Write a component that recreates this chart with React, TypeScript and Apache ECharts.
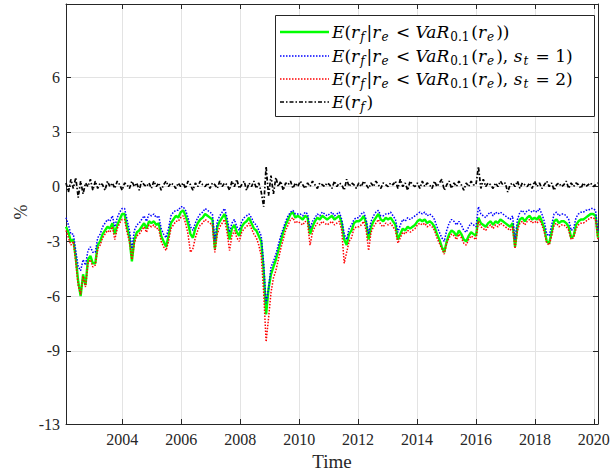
import { useEffect, useRef } from "react";
import * as echarts from "echarts";

// Time span of the sample (decimal years) and tick labels
const START_YEAR = 2002.09;
const END_YEAR = 2020.14;
const yearTicks = [2004, 2006, 2008, 2010, 2012, 2014, 2016, 2018, 2020];
const yTicks = [-13, -9, -6, -3, 0, 3, 6];
const Y_MIN = -13;
const Y_MAX = 10;

const seriesNames = [
  "E(r_f|r_e<VaR_0.1(r_e))",
  "E(r_f|r_e<VaR_0.1(r_e), s_t=1)",
  "E(r_f|r_e<VaR_0.1(r_e), s_t=2)",
  "E(r_f)",
];

// E(r_f | r_e < VaR_0.1(r_e))  (green, roughly monthly observations)
const condAll = [
  -2.2, -2.5, -3.0, -2.9, -3.9, -5.2, -6.0, -4.8, -5.4, -4.0, -3.8, -4.2,
  -4.2, -3.2, -3.0, -2.6, -2.4, -2.2, -2.3, -2.0, -2.6, -2.1, -1.8, -1.5,
  -1.5, -2.2, -2.8, -4.1, -2.9, -2.5, -2.4, -2.2, -2.0, -2.3, -1.9, -2.0,
  -1.9, -2.1, -2.0, -2.7, -3.0, -3.3, -2.7, -2.0, -1.8, -1.6, -1.7, -1.4,
  -1.3, -1.6, -2.0, -2.6, -2.8, -2.3, -2.0, -1.8, -1.7, -1.5, -1.6, -1.7,
  -1.8, -3.4, -2.2, -1.9, -1.7, -1.5, -2.0, -2.9, -2.3, -2.1, -2.5, -2.7,
  -2.2, -2.0, -1.9, -1.7, -2.0, -2.3, -2.4, -2.7, -3.0, -4.6, -7.0, -5.6,
  -4.8, -4.4, -4.0, -3.5, -3.0, -2.5, -2.1, -1.8, -1.5, -1.4, -1.7, -1.6,
  -1.7, -1.8, -1.6, -1.7, -2.6, -2.2, -1.9, -1.7, -1.8, -1.6, -1.7, -1.8,
  -1.7, -1.6, -1.8, -1.7, -1.6, -2.0, -2.9, -3.2, -2.6, -2.4, -2.0, -1.9,
  -1.9, -1.8, -1.6, -2.0, -2.9, -2.2, -1.9, -1.7, -1.5, -1.8, -1.9, -1.7,
  -1.8, -1.7, -1.9, -2.1, -2.9, -2.6, -2.3, -2.4, -2.2, -2.3, -2.2, -2.1,
  -1.9, -1.8, -1.9, -1.8, -2.0, -1.9, -2.0, -2.2, -2.6, -2.9, -3.3, -3.6,
  -3.0, -2.6, -2.4, -2.5, -2.7, -2.4, -2.6, -2.9, -3.0, -2.7, -2.5, -2.6,
  -2.7, -1.7, -2.0, -2.1, -2.2, -2.0, -1.9, -2.1, -1.9, -2.0, -1.8, -1.9,
  -2.0, -2.1, -2.2, -2.0, -3.3, -2.2, -1.8, -1.7, -1.9, -1.7, -1.6, -1.8,
  -1.7, -1.8, -1.6, -1.9, -2.3, -3.0, -3.1, -2.5, -1.9, -1.8, -2.0, -1.9,
  -1.9, -2.0, -2.2, -2.8, -2.7, -2.1, -1.9, -1.8, -1.8, -1.7, -1.6, -1.5,
  -1.5, -1.6, -2.8,
];

// E(r_f | r_e < VaR_0.1(r_e), s_t = 1)  (blue)
const condState1 = [
  -1.7, -2.1, -2.6, -2.6, -3.5, -4.4, -4.6, -4.0, -4.3, -3.5, -3.3, -3.6,
  -3.6, -2.8, -2.6, -2.2, -2.0, -1.8, -1.9, -1.6, -2.2, -1.7, -1.4, -1.2,
  -1.2, -1.8, -2.4, -3.4, -2.4, -2.1, -2.0, -1.8, -1.6, -1.9, -1.5, -1.6,
  -1.5, -1.7, -1.6, -2.3, -2.6, -2.8, -2.3, -1.6, -1.4, -1.3, -1.3, -1.1,
  -1.1, -1.3, -1.7, -2.2, -2.4, -2.0, -1.7, -1.5, -1.4, -1.2, -1.3, -1.4,
  -1.5, -3.0, -1.9, -1.6, -1.4, -1.2, -1.7, -2.5, -2.0, -1.8, -2.2, -2.4,
  -1.9, -1.7, -1.6, -1.5, -1.7, -2.0, -2.1, -2.4, -2.7, -4.2, -6.4, -5.6,
  -4.4, -4.1, -3.7, -3.2, -2.7, -2.3, -1.9, -1.6, -1.4, -1.3, -1.5, -1.5,
  -1.5, -1.6, -1.4, -1.5, -2.3, -1.9, -1.7, -1.5, -1.6, -1.4, -1.5, -1.6,
  -1.5, -1.4, -1.6, -1.5, -1.4, -1.8, -2.6, -2.9, -2.3, -2.1, -1.8, -1.7,
  -1.7, -1.5, -1.4, -1.8, -2.6, -1.9, -1.6, -1.4, -1.3, -1.6, -1.6, -1.5,
  -1.5, -1.4, -1.6, -1.8, -2.5, -2.1, -1.8, -1.9, -1.7, -1.8, -1.7, -1.6,
  -1.5, -1.4, -1.5, -1.4, -1.6, -1.5, -1.6, -1.8, -2.2, -2.5, -2.8, -3.0,
  -2.4, -2.0, -1.8, -1.9, -2.1, -1.9, -2.1, -2.4, -2.5, -2.2, -2.0, -2.1,
  -2.2, -1.1, -1.5, -1.6, -1.7, -1.5, -1.4, -1.6, -1.4, -1.5, -1.4, -1.5,
  -1.6, -1.7, -1.8, -1.6, -2.9, -1.8, -1.4, -1.3, -1.5, -1.3, -1.3, -1.4,
  -1.3, -1.4, -1.2, -1.5, -1.9, -2.6, -2.7, -2.1, -1.5, -1.4, -1.6, -1.5,
  -1.5, -1.6, -1.8, -2.4, -2.3, -1.7, -1.5, -1.4, -1.4, -1.3, -1.3, -1.2,
  -1.2, -1.3, -2.5,
];

// E(r_f | r_e < VaR_0.1(r_e), s_t = 2)  (red)
const condState2 = [
  -2.4, -2.8, -3.2, -3.0, -4.1, -5.4, -5.9, -4.9, -5.5, -4.2, -4.0, -4.4,
  -4.3, -3.4, -3.2, -2.8, -2.6, -2.4, -2.5, -2.2, -2.9, -2.3, -2.0, -1.8,
  -1.8, -2.5, -3.0, -4.0, -3.1, -2.7, -2.6, -2.4, -2.2, -2.5, -2.1, -2.2,
  -2.1, -2.3, -2.3, -3.0, -3.3, -3.5, -3.0, -2.3, -2.1, -1.9, -1.9, -1.7,
  -1.6, -2.0, -2.6, -3.6, -3.4, -2.8, -2.4, -2.1, -2.0, -1.8, -1.9, -2.0,
  -2.1, -3.6, -2.6, -2.2, -2.0, -1.8, -2.5, -3.5, -2.7, -2.4, -2.8, -3.0,
  -2.5, -2.3, -2.2, -2.0, -2.3, -2.6, -2.8, -3.2, -3.8, -5.8, -8.5, -7.2,
  -5.8, -5.0, -4.6, -4.0, -3.4, -2.9, -2.4, -2.1, -1.8, -1.7, -2.0, -1.9,
  -2.0, -2.1, -1.9, -2.0, -3.2, -2.5, -2.2, -2.0, -2.1, -1.9, -2.0, -2.1,
  -2.0, -1.9, -2.1, -2.0, -1.9, -2.4, -4.2, -3.6, -3.0, -2.8, -2.3, -2.2,
  -2.2, -2.1, -1.9, -2.4, -3.5, -2.5, -2.2, -2.0, -1.8, -2.1, -2.2, -2.0,
  -2.1, -2.0, -2.2, -2.4, -3.1, -2.8, -2.5, -2.6, -2.4, -2.5, -2.4, -2.3,
  -2.1, -2.0, -2.1, -2.0, -2.2, -2.1, -2.2, -2.4, -2.8, -3.1, -3.4, -3.7,
  -3.1, -2.8, -2.6, -2.7, -2.9, -2.6, -2.8, -3.1, -3.2, -2.9, -2.7, -2.8,
  -2.9, -1.9, -2.2, -2.3, -2.4, -2.2, -2.1, -2.3, -2.1, -2.2, -2.0, -2.1,
  -2.2, -2.3, -2.4, -2.2, -3.4, -2.4, -2.0, -1.9, -2.1, -1.9, -1.8, -2.0,
  -1.9, -2.0, -1.8, -2.1, -2.5, -3.1, -3.2, -2.7, -2.1, -2.0, -2.2, -2.1,
  -2.1, -2.2, -2.4, -2.9, -2.8, -2.3, -2.1, -2.0, -2.0, -1.9, -1.8, -1.7,
  -1.7, -1.8, -2.9,
];

// E(r_f)  (black, unconditional)
const uncond = [
  0.2, -0.3, 0.4, -0.1, 0.5, -0.6, 0.3, -0.4, 0.2, 0.0, 0.4, -0.2,
  0.3, -0.1, 0.2, 0.1, -0.2, 0.3, 0.0, 0.2, -0.1, 0.3, 0.1, -0.2,
  0.2, 0.1, -0.1, 0.3, 0.0, 0.2, -0.2, 0.3, 0.1, 0.0, 0.2, -0.1,
  0.3, 0.0, 0.2, -0.2, 0.1, 0.3, 0.0, 0.2, 0.1, -0.1, 0.2, 0.0,
  0.2, -0.1, 0.3, 0.1, -0.2, 0.2, 0.0, 0.3, 0.1, 0.0, 0.2, -0.1,
  0.2, 0.1, -0.1, 0.3, 0.0, 0.2, 0.1, -0.2, 0.3, 0.0, 0.4, -0.1,
  0.1, 0.3, -0.2, 0.2, 0.0, 0.3, -0.1, 0.2, -0.3, -1.1, 1.1, -0.5,
  0.6, -0.4, 0.5, 0.0, 0.3, -0.2, 0.2, 0.1, 0.3, -0.1, 0.2, 0.0,
  0.3, 0.1, -0.1, 0.2, 0.0, 0.3, 0.1, -0.1, 0.2, 0.1, 0.0, 0.2,
  0.1, -0.1, 0.3, 0.0, 0.2, 0.1, -0.2, 0.4, 0.0, 0.2, 0.1, -0.1,
  0.2, 0.0, 0.3, 0.1, -0.1, 0.2, 0.0, 0.3, 0.1, -0.1, 0.2, 0.1,
  0.0, 0.2, 0.1, 0.3, -0.1, 0.4, 0.0, 0.2, -0.2, 0.3, 0.1, 0.0,
  0.2, -0.1, 0.3, 0.0, 0.2, 0.1, -0.1, 0.3, 0.0, 0.2, 0.4, -0.2,
  0.1, 0.3, -0.1, 0.2, 0.0, 0.3, 0.1, -0.2, 0.2, 0.0, 0.3, 0.1,
  0.1, 1.1, -0.1, 0.4, 0.0, 0.2, 0.1, -0.1, 0.2, 0.0, 0.3, 0.1,
  0.2, -0.3, 0.1, 0.2, 0.0, 0.3, -0.1, 0.2, 0.1, 0.0, 0.2, -0.1,
  0.3, 0.0, 0.2, -0.1, 0.1, 0.3, 0.0, 0.2, -0.2, 0.1, 0.2, 0.0,
  0.1, 0.3, -0.1, 0.2, 0.0, 0.2, 0.1, -0.1, 0.2, 0.0, 0.1, 0.2,
  0.0, 0.1, 0.2,
];

const FONT = "Liberation Serif";
const LFONT = "DejaVu Serif";
const AX = "#262626";
const GRID = "#e3e3e3";

function toPairs(values: number[]) {
  const n = values.length;
  const step = (END_YEAR - START_YEAR) / (n - 1);
  return values.map((v, i) => [START_YEAR + i * step, v]);
}

const rich = {
  i: { fontFamily: LFONT, fontStyle: "italic", fontSize: 17, lineHeight: 22, color: "#000", verticalAlign: "middle" },
  n: { fontFamily: LFONT, fontSize: 17, lineHeight: 22, color: "#000", verticalAlign: "middle" },
  si: { fontFamily: LFONT, fontStyle: "italic", fontSize: 12, lineHeight: 11, color: "#000", verticalAlign: "bottom", padding: [0, 2, 0, 1] },
  sn: { fontFamily: LFONT, fontSize: 12, lineHeight: 11, color: "#000", verticalAlign: "bottom", padding: [0, 2, 0, 1] },
};

const base = "{i|E}{n|(}{i|r}{si|f}{n||}{i|r}{si|e}{n| < }{i|VaR}{sn|0.1}{n|(}{i|r}{si|e}{n|)}";
const legendTexts = [
  base + "{n|)}",
  base + "{n|, }{i|s}{si|t}{n| = 1)}",
  base + "{n|, }{i|s}{si|t}{n| = 2)}",
  "{i|E}{n|(}{i|r}{si|f}{n|)}",
];

export default function App() {
  const ref = useRef<HTMLDivElement>(null);
  useEffect(() => {
    if (!ref.current) return;
    const chart = echarts.init(ref.current, null, { renderer: "svg" });

    const lineStyles = [
      { color: "#00ff00", width: 2.4, type: "solid" },
      { color: "#0000ff", width: 1.5, type: [1.5, 1.5] },
      { color: "#ff0000", width: 1.5, type: [1.5, 1.5] },
      { color: "#000000", width: 1.7, type: [4, 2, 1.5, 2] },
    ];
    const datasets = [condAll, condState1, condState2, uncond];

    const legendX0 = 280;
    const legendX1 = 329;
    const rowY = [32, 56, 79, 102];

    const graphic: any[] = [
      {
        type: "rect",
        z: 100,
        shape: { x: 275.5, y: 15.5, width: 319, height: 101 },
        style: { fill: "#fff", stroke: AX, lineWidth: 1 },
      },
      {
        type: "text",
        z: 100,
        x: 21,
        y: 212,
        rotation: Math.PI / 2,
        style: { text: "%", font: `18px ${FONT}`, fill: AX, align: "center", verticalAlign: "middle" },
      },
      {
        type: "text",
        z: 100,
        x: 332,
        y: 461,
        style: { text: "Time", font: `19px ${FONT}`, fill: AX, align: "center", verticalAlign: "middle" },
      },
    ];
    rowY.forEach((y, k) => {
      const ls = lineStyles[k];
      graphic.push({
        type: "line",
        z: 101,
        shape: { x1: legendX0, y1: y, x2: legendX1, y2: y },
        style: {
          stroke: ls.color,
          lineWidth: k === 0 ? 2.4 : 1.3,
          lineDash: Array.isArray(ls.type) ? ls.type : null,
        },
      });
      graphic.push({
        type: "text",
        z: 101,
        x: 332,
        y: y,
        style: { text: legendTexts[k], rich, verticalAlign: "middle", align: "left" },
      });
    });

    const tickLabelStyle = { fontFamily: FONT, fontSize: 16, color: AX };

    chart.setOption({
      animation: false,
      grid: { left: 66, right: 18, top: 4, bottom: 48, containLabel: false },
      xAxis: [
        {
          type: "value",
          min: START_YEAR,
          max: END_YEAR,
          position: "bottom",
          axisLine: { show: true, onZero: false, lineStyle: { color: AX, width: 1 } },
          axisTick: { show: true, inside: true, length: 5, customValues: yearTicks, lineStyle: { color: AX } },
          axisLabel: { ...tickLabelStyle, margin: 7, customValues: yearTicks, formatter: (v: number) => String(Math.round(v)) },
          splitLine: { show: true, lineStyle: { color: GRID, width: 1 } },
        },
        {
          type: "value",
          min: START_YEAR,
          max: END_YEAR,
          position: "top",
          axisLine: { show: true, onZero: false, lineStyle: { color: AX, width: 1 } },
          axisTick: { show: true, inside: true, length: 5, customValues: yearTicks, lineStyle: { color: AX } },
          axisLabel: { show: false },
          splitLine: { show: false },
        },
      ],
      yAxis: [
        {
          type: "value",
          min: Y_MIN,
          max: Y_MAX,
          position: "left",
          axisLine: { show: true, onZero: false, lineStyle: { color: AX, width: 1 } },
          axisTick: { show: true, inside: true, length: 5, customValues: yTicks, lineStyle: { color: AX } },
          axisLabel: { ...tickLabelStyle, margin: 6, customValues: yTicks, formatter: (v: number) => String(v) },
          splitLine: { show: true, lineStyle: { color: GRID, width: 1 } },
        },
        {
          type: "value",
          min: Y_MIN,
          max: Y_MAX,
          position: "right",
          axisLine: { show: true, onZero: false, lineStyle: { color: AX, width: 1 } },
          axisTick: { show: true, inside: true, length: 5, customValues: yTicks, lineStyle: { color: AX } },
          axisLabel: { show: false },
          splitLine: { show: false },
        },
      ],
      series: datasets.map((d, k) => ({
        name: seriesNames[k],
        type: "line",
        xAxisIndex: 0,
        yAxisIndex: 0,
        data: toPairs(d),
        showSymbol: false,
        symbol: "none",
        silent: true,
        lineStyle: lineStyles[k],
        z: 2 + k,
      })),
      graphic,
    });
    return () => chart.dispose();
  }, []);
  return <div ref={ref} style={{ width: 616, height: 472, position: "absolute", left: 0, top: 0 }} />;
}
